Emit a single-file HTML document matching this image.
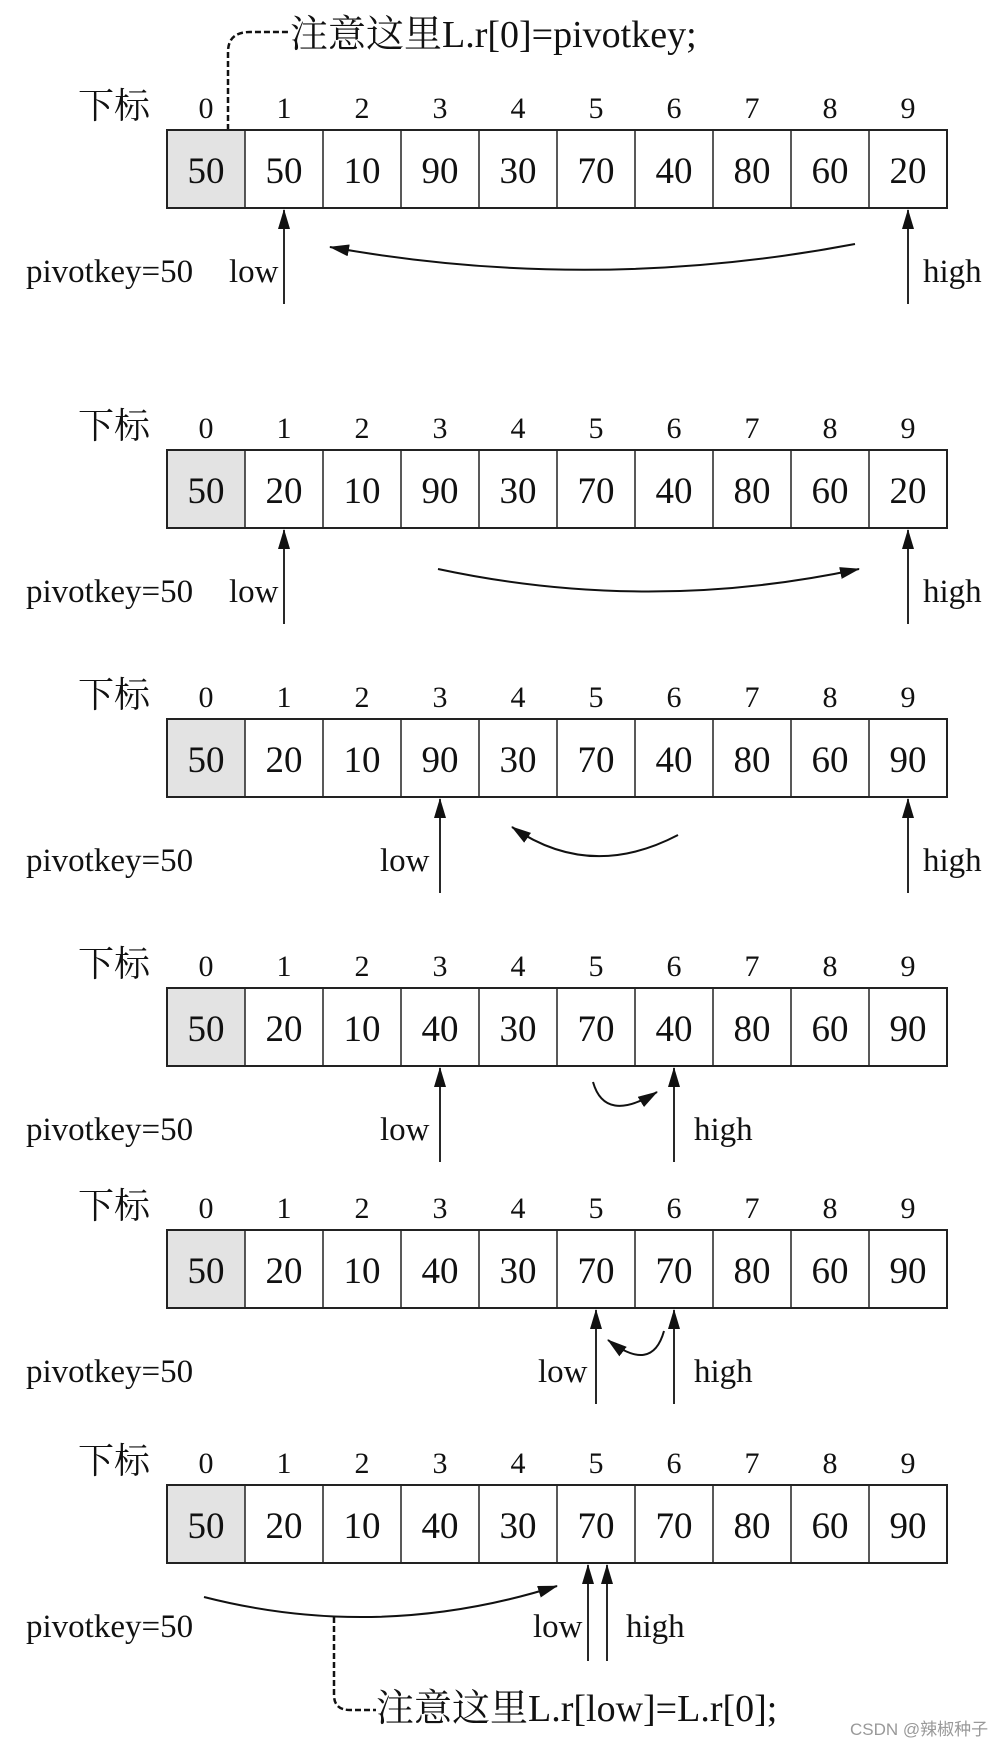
<!DOCTYPE html>
<html><head><meta charset="utf-8"><style>
html,body{margin:0;padding:0;background:#fff;}
svg{display:block;}
text{font-family:"Liberation Serif","Noto Serif CJK SC",serif;fill:#111;}
.idx{font-size:30px;text-anchor:middle;}
.val{font-size:37px;text-anchor:middle;}
.lab{font-size:33px;}
.cn{font-size:36px;}
</style></head><body>
<svg width="998" height="1746" viewBox="0 0 998 1746" xmlns="http://www.w3.org/2000/svg">
<defs>
<marker id="a" viewBox="0 0 20 12" refX="19" refY="6" markerWidth="20" markerHeight="12" orient="auto" markerUnits="userSpaceOnUse"><path d="M0,0 L20,6 L0,12 Z" fill="#111"/></marker>
<g id="grid">
<rect x="167" y="0" width="78" height="78" fill="#e3e3e3"/>
<rect x="167" y="0" width="780" height="78" fill="none" stroke="#222" stroke-width="2"/>
<path d="M245,0V78M323,0V78M401,0V78M479,0V78M557,0V78M635,0V78M713,0V78M791,0V78M869,0V78" stroke="#222" stroke-width="1.5"/>
<text x="78" y="-12" class="cn">下标</text>
<text class="idx" y="-12"><tspan x="206">0</tspan><tspan x="284">1</tspan><tspan x="362">2</tspan><tspan x="440">3</tspan><tspan x="518">4</tspan><tspan x="596">5</tspan><tspan x="674">6</tspan><tspan x="752">7</tspan><tspan x="830">8</tspan><tspan x="908">9</tspan></text>
<text x="26" y="152" class="lab">pivotkey=50</text>
</g>
</defs>

<path d="M228,130 V52 Q228,32 250,32 H290" fill="none" stroke="#111" stroke-width="2.5" stroke-dasharray="6,3"/>
<text x="290" y="47" style="font-size:38px">注意这里L.r[0]=pivotkey;</text>

<g transform="translate(0,130)">
<use href="#grid"/>
<text class="val" y="53"><tspan x="206">50</tspan><tspan x="284">50</tspan><tspan x="362">10</tspan><tspan x="440">90</tspan><tspan x="518">30</tspan><tspan x="596">70</tspan><tspan x="674">40</tspan><tspan x="752">80</tspan><tspan x="830">60</tspan><tspan x="908">20</tspan></text>
<line x1="284" y1="174" x2="284" y2="80" stroke="#111" stroke-width="1.8" marker-end="url(#a)"/>
<line x1="908" y1="174" x2="908" y2="80" stroke="#111" stroke-width="1.8" marker-end="url(#a)"/>
<text x="229" y="152" class="lab">low</text>
<text x="923" y="152" class="lab">high</text>
<path d="M855,114 Q592,164 330,117" fill="none" stroke="#111" stroke-width="2" marker-end="url(#a)"/>
</g>

<g transform="translate(0,450)">
<use href="#grid"/>
<text class="val" y="53"><tspan x="206">50</tspan><tspan x="284">20</tspan><tspan x="362">10</tspan><tspan x="440">90</tspan><tspan x="518">30</tspan><tspan x="596">70</tspan><tspan x="674">40</tspan><tspan x="752">80</tspan><tspan x="830">60</tspan><tspan x="908">20</tspan></text>
<line x1="284" y1="174" x2="284" y2="80" stroke="#111" stroke-width="1.8" marker-end="url(#a)"/>
<line x1="908" y1="174" x2="908" y2="80" stroke="#111" stroke-width="1.8" marker-end="url(#a)"/>
<text x="229" y="152" class="lab">low</text>
<text x="923" y="152" class="lab">high</text>
<path d="M438,119 Q648,164 859,119" fill="none" stroke="#111" stroke-width="2" marker-end="url(#a)"/>
</g>

<g transform="translate(0,719)">
<use href="#grid"/>
<text class="val" y="53"><tspan x="206">50</tspan><tspan x="284">20</tspan><tspan x="362">10</tspan><tspan x="440">90</tspan><tspan x="518">30</tspan><tspan x="596">70</tspan><tspan x="674">40</tspan><tspan x="752">80</tspan><tspan x="830">60</tspan><tspan x="908">90</tspan></text>
<line x1="440" y1="174" x2="440" y2="80" stroke="#111" stroke-width="1.8" marker-end="url(#a)"/>
<line x1="908" y1="174" x2="908" y2="80" stroke="#111" stroke-width="1.8" marker-end="url(#a)"/>
<text x="380" y="152" class="lab">low</text>
<text x="923" y="152" class="lab">high</text>
<path d="M678,116 Q590,162 512,108" fill="none" stroke="#111" stroke-width="2" marker-end="url(#a)"/>
</g>

<g transform="translate(0,988)">
<use href="#grid"/>
<text class="val" y="53"><tspan x="206">50</tspan><tspan x="284">20</tspan><tspan x="362">10</tspan><tspan x="440">40</tspan><tspan x="518">30</tspan><tspan x="596">70</tspan><tspan x="674">40</tspan><tspan x="752">80</tspan><tspan x="830">60</tspan><tspan x="908">90</tspan></text>
<line x1="440" y1="174" x2="440" y2="80" stroke="#111" stroke-width="1.8" marker-end="url(#a)"/>
<line x1="674" y1="174" x2="674" y2="80" stroke="#111" stroke-width="1.8" marker-end="url(#a)"/>
<text x="380" y="152" class="lab">low</text>
<text x="694" y="152" class="lab">high</text>
<path d="M593,94 Q605,136 657,104" fill="none" stroke="#111" stroke-width="2" marker-end="url(#a)"/>
</g>

<g transform="translate(0,1230)">
<use href="#grid"/>
<text class="val" y="53"><tspan x="206">50</tspan><tspan x="284">20</tspan><tspan x="362">10</tspan><tspan x="440">40</tspan><tspan x="518">30</tspan><tspan x="596">70</tspan><tspan x="674">70</tspan><tspan x="752">80</tspan><tspan x="830">60</tspan><tspan x="908">90</tspan></text>
<line x1="596" y1="174" x2="596" y2="80" stroke="#111" stroke-width="1.8" marker-end="url(#a)"/>
<line x1="674" y1="174" x2="674" y2="80" stroke="#111" stroke-width="1.8" marker-end="url(#a)"/>
<text x="538" y="152" class="lab">low</text>
<text x="694" y="152" class="lab">high</text>
<path d="M664,101 Q652,144 608,110" fill="none" stroke="#111" stroke-width="2" marker-end="url(#a)"/>
</g>

<g transform="translate(0,1485)">
<use href="#grid"/>
<text class="val" y="53"><tspan x="206">50</tspan><tspan x="284">20</tspan><tspan x="362">10</tspan><tspan x="440">40</tspan><tspan x="518">30</tspan><tspan x="596">70</tspan><tspan x="674">70</tspan><tspan x="752">80</tspan><tspan x="830">60</tspan><tspan x="908">90</tspan></text>
<line x1="588" y1="176" x2="588" y2="80" stroke="#111" stroke-width="1.8" marker-end="url(#a)"/>
<line x1="607" y1="176" x2="607" y2="80" stroke="#111" stroke-width="1.8" marker-end="url(#a)"/>
<text x="533" y="152" class="lab">low</text>
<text x="626" y="152" class="lab">high</text>
<path d="M204,112 Q380,157 557,101" fill="none" stroke="#111" stroke-width="2" marker-end="url(#a)"/>
</g>

<path d="M334,1617 V1695 Q334,1710 350,1710 H376" fill="none" stroke="#111" stroke-width="2.5" stroke-dasharray="6,3"/>
<text x="376" y="1721" style="font-size:38px">注意这里L.r[low]=L.r[0];</text>

<text x="850" y="1735" style="font-family:'Liberation Sans','Noto Sans CJK SC',sans-serif;font-size:17px;fill:#999">CSDN @辣椒种子</text>
</svg>
</body></html>
